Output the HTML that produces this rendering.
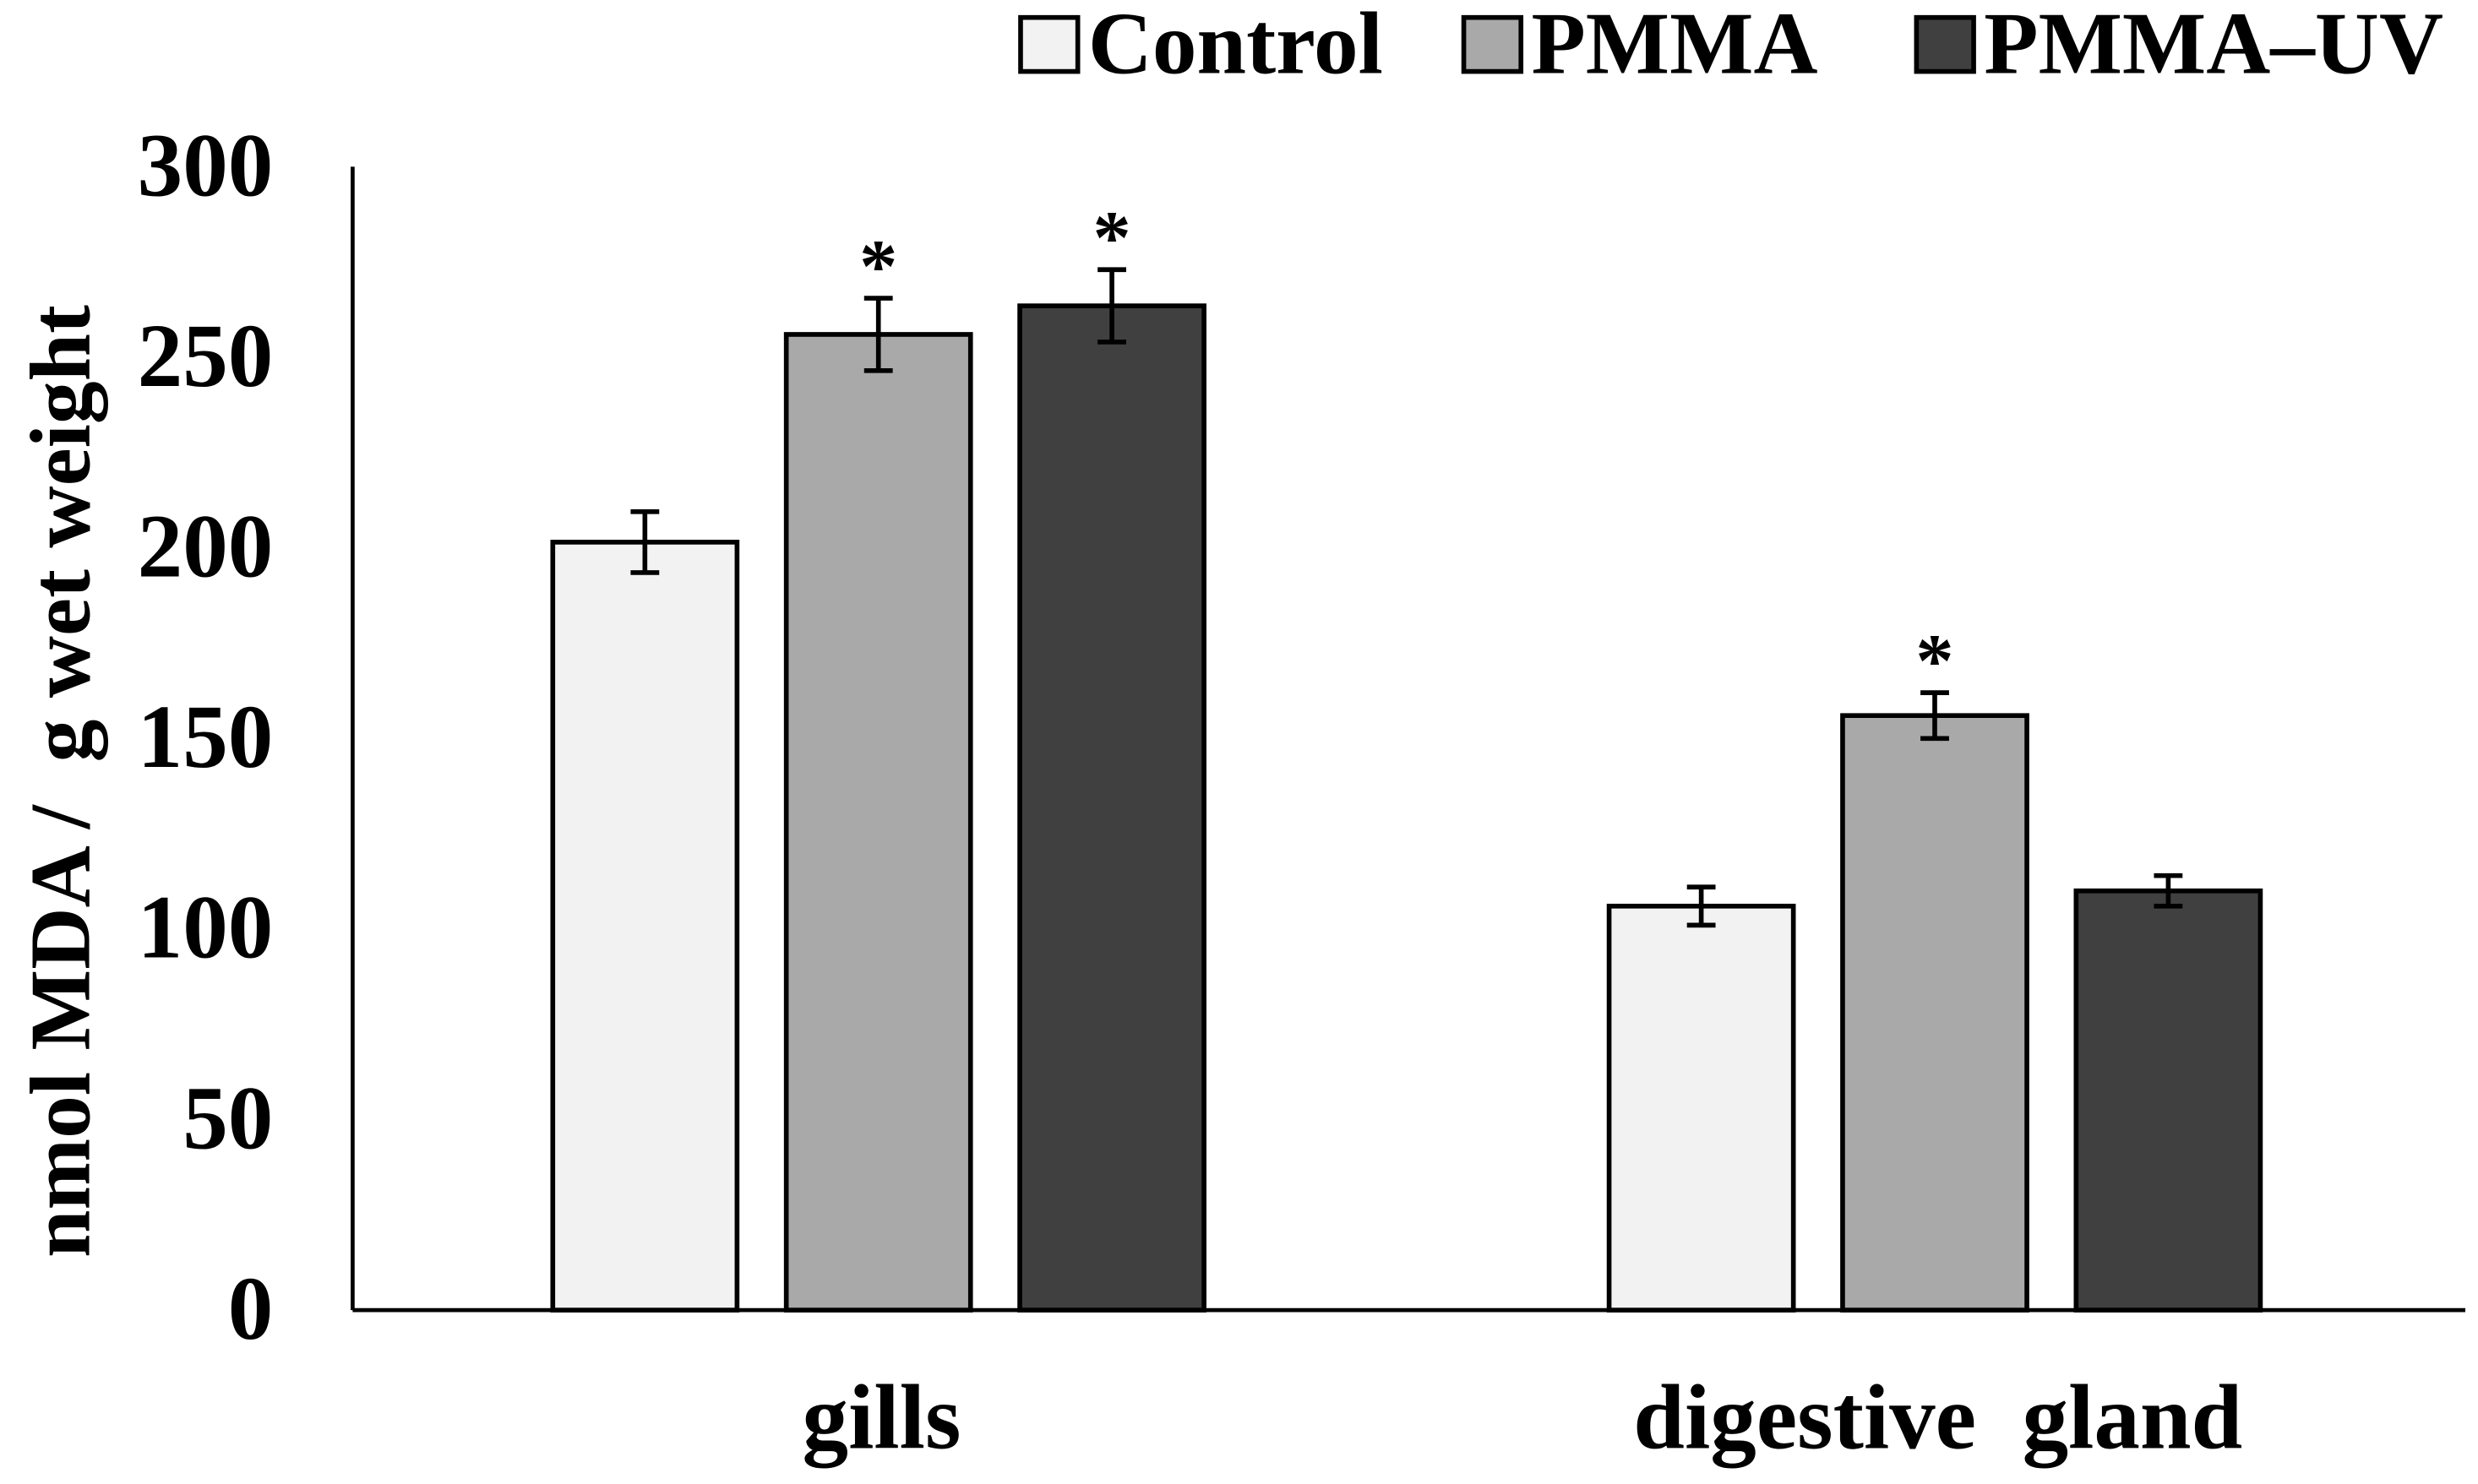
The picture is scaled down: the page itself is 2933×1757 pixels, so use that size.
<!DOCTYPE html>
<html><head><meta charset="utf-8"><style>
html,body{margin:0;padding:0;background:#fff}
svg{display:block}
text{font-family:"Liberation Serif",serif;font-weight:bold;fill:#000;white-space:pre}
</style></head><body>
<svg id="chart" width="2933" height="1757" viewBox="0 0 1560 934.5" preserveAspectRatio="none" xmlns="http://www.w3.org/2000/svg">
<g id="legend"></g>
<g id="axes"></g>
<g id="bars"></g>
</svg>
<script>
const categories = ["gills", "digestive  gland"];
const seriesNames = ["Control", "PMMA", "PMMA\u2013UV"];
const controlValues = [201.5, 106];
const pmmaValues = [256, 156];
const pmmaUvValues = [263.5, 110];
const controlErr = [8, 5];
const pmmaErr = [9.5, 6];
const pmmaUvErr = [9.5, 4];
const pmmaSig = [true, true];
const pmmaUvSig = [true, false];
const controlSig = [false, false];
const yTicks = [0, 50, 100, 150, 200, 250, 300];

const NS = "http://www.w3.org/2000/svg";
const svg = document.getElementById('chart');
const fills = ["#f2f2f2", "#a9a9a9", "#404040"];
const x0 = 222, x1 = 1552, yBase = 825, yTop = 105, yMax = 300;
const y = v => yBase - (v / yMax) * (yBase - yTop);
const groupCenters = [555, 1220];
const barW = 116, barStep = 147;
function mk(tag, attrs, parent) { const e = document.createElementNS(NS, tag); for (const k in attrs) e.setAttribute(k, attrs[k]); (parent || svg).appendChild(e); return e; }

const axes = document.getElementById('axes');
const yAxis = mk('line', {x1: x0, y1: yTop, x2: x0, y2: yBase, stroke: "#000", "stroke-width": 2.5}, axes);


const xAxis = mk('line', {x1: x0, y1: yBase, x2: x1, y2: yBase, stroke: "#000", "stroke-width": 2.5}, axes);


yTicks.forEach(t => {
  const tx = mk('text', {x: 172, y: y(t) + 18, "text-anchor": "end", "font-size": 57}, axes);
  tx.textContent = t;
  
  
});
const yt = mk('text', {x: 0, y: 0, "text-anchor": "middle", "font-size": 54, transform: "translate(56," + 492 + ") rotate(-90)"}, axes);
yt.textContent = "nmol MDA /  g wet weight";


categories.forEach((c, i) => {
  const t = mk('text', {x: groupCenters[i], y: 912, "text-anchor": "middle", "font-size": 58}, axes);
  t.textContent = c;
  
  
});

const bars = document.getElementById('bars');
const vals = [controlValues, pmmaValues, pmmaUvValues];
const errs = [controlErr, pmmaErr, pmmaUvErr];
const sigs = [controlSig, pmmaSig, pmmaUvSig];
categories.forEach((c, i) => {
  vals.forEach((arr, s) => {
    const cx = groupCenters[i] + (s - 1) * barStep - 2;
    const v = arr[i];
    const r = mk('rect', {x: cx - barW / 2, y: y(v), width: barW, height: yBase - y(v), fill: fills[s], stroke: "#000", "stroke-width": 3}, bars);
    
    
    const e = errs[s][i];
    const g = mk('g', {stroke: "#000", "stroke-width": 3}, bars);
    
    
    mk('line', {x1: cx, x2: cx, y1: y(v + e), y2: y(v - e)}, g);
    mk('line', {x1: cx - 9, x2: cx + 9, y1: y(v + e), y2: y(v + e)}, g);
    mk('line', {x1: cx - 9, x2: cx + 9, y1: y(v - e), y2: y(v - e)}, g);
    if (sigs[s][i]) {
      const a = mk('text', {x: cx, y: y(v + e) - 4, "text-anchor": "middle", "font-size": 48}, bars);
      a.textContent = "*";
      
      
    }
  });
});

const legend = document.getElementById('legend');
const legX = [641, 920, 1205];
seriesNames.forEach((n, s) => {
  const r = mk('rect', {x: legX[s] + 1.5, y: 11, width: 36, height: 34, fill: fills[s], stroke: "#000", "stroke-width": 3}, legend);
  
  
  const t = mk('text', {x: legX[s] + 44, y: 46, "font-size": 56}, legend);
  t.textContent = n;
  
  
});
</script>
</body></html>
